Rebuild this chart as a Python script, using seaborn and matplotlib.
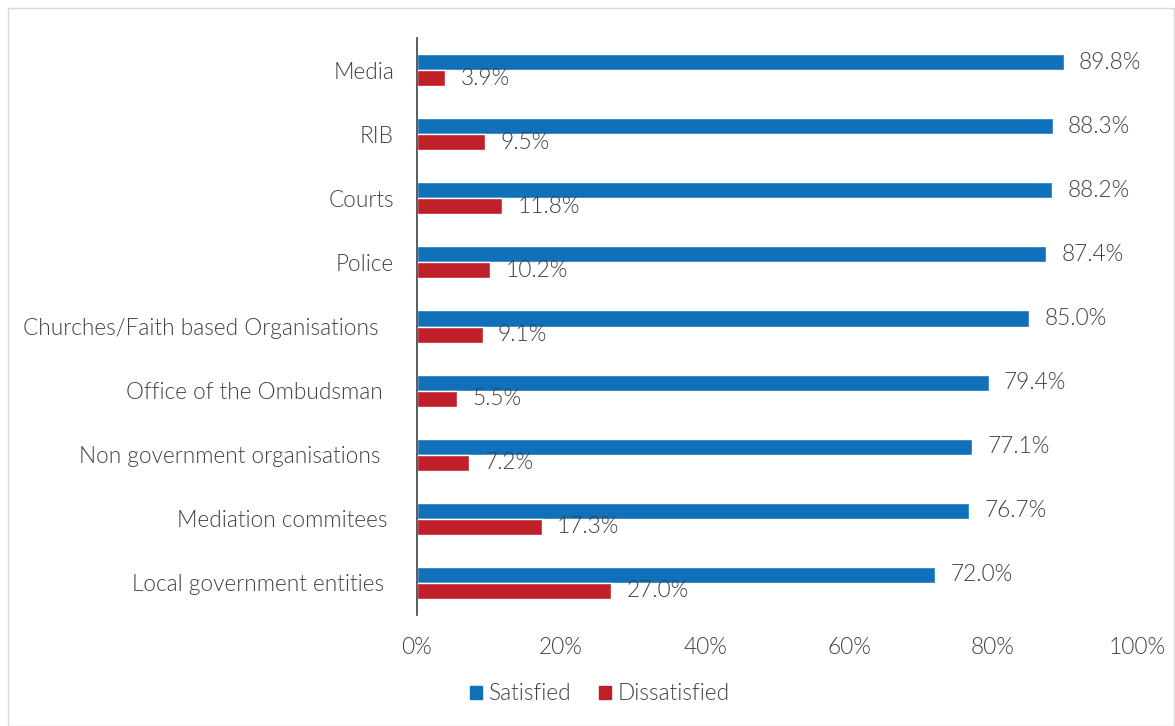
import pandas as pd
import matplotlib.pyplot as plt
import matplotlib.patches as mpatches
import matplotlib.transforms as mtransforms
import seaborn as sns

# ── Data ──────────────────────────────────────────────────────────────────────
institutions = ['Media', 'RIB', 'Courts', 'Police',
                'Churches/Faith based Organisations', 'Office of the Ombudsman',
                'Non government organisations', 'Mediation commitees',
                'Local government entities']
satisfied = [89.8, 88.3, 88.2, 87.4, 85.0, 79.4, 77.1, 76.7, 72.0]
dissatisfied = [3.9, 9.5, 11.8, 10.2, 9.1, 5.5, 7.2, 17.3, 27.0]
x_ticks = [0, 20, 40, 60, 80, 100]

df = pd.DataFrame({
    'institution': institutions * 2,
    'value': satisfied + dissatisfied,
    'group': ['Satisfied'] * len(institutions) + ['Dissatisfied'] * len(institutions),
})

# ── Style ─────────────────────────────────────────────────────────────────────
sns.set_theme(style='white')
plt.rcParams['font.family'] = ['Lato', 'DejaVu Sans']
TEXT = '#404040'
FS = 16.3
W = 300  # Lato Light
COLORS = {'Satisfied': '#1170BA', 'Dissatisfied': '#C0202A'}

fig = plt.figure(figsize=(11.75, 7.26), dpi=100)
ax = fig.add_axes([417 / 1175, 1 - 615 / 726, 720 / 1175, 577 / 726])

sns.barplot(data=df, y='institution', x='value', hue='group', orient='h',
            palette=COLORS, width=0.5, ax=ax, legend=False, saturation=1)

ax.set_xlim(0, 100)
ax.set_xticks(x_ticks)
ax.set_xticklabels([f'{t}%' for t in x_ticks], fontsize=FS, color=TEXT,
                   fontweight=W)
ax.tick_params(axis='x', length=0, pad=16)
ax.tick_params(axis='y', length=0, pad=16.5)
# Excel's ragged right edges on the category labels (px shift to the left)
label_shift = [0, 0, 0, 0, 15, 11, 14, 7, 10]
for lbl, dx in zip(ax.get_yticklabels(), label_shift):
    lbl.set_fontsize(FS)
    lbl.set_color(TEXT)
    lbl.set_fontweight(W)
    lbl.set_transform(lbl.get_transform() +
                      mtransforms.ScaledTranslation(-dx / 100, 0, fig.dpi_scale_trans))
ax.set_xlabel('')
ax.set_ylabel('')

for side in ['top', 'right', 'bottom']:
    ax.spines[side].set_visible(False)
ax.spines['left'].set_color('#404040')
ax.spines['left'].set_linewidth(1.2)

# value labels
for cont in ax.containers:
    ax.bar_label(cont, labels=[f'{v:.1f}%' for v in cont.datavalues],
                 padding=11, fontsize=FS, color=TEXT, fontweight=W)

# legend
handles = [mpatches.Patch(color=COLORS[k], label=k) for k in COLORS]
fig.legend(handles=handles, loc='center', bbox_to_anchor=(600 / 1175, 1 - 694 / 726),
           ncol=2, frameon=False, handlelength=0.55, handleheight=0.55,
           handletextpad=0.3, columnspacing=1.2, labelcolor=TEXT,
           prop={'weight': W, 'size': FS})

# outer frame
fig.patches.append(mpatches.Rectangle((8 / 1175, 0.5 / 726), 1166 / 1175, 717.5 / 726,
                                      transform=fig.transFigure, fill=False,
                                      edgecolor='#D9D9D9', linewidth=1))

plt.savefig('out.png', dpi=100)
